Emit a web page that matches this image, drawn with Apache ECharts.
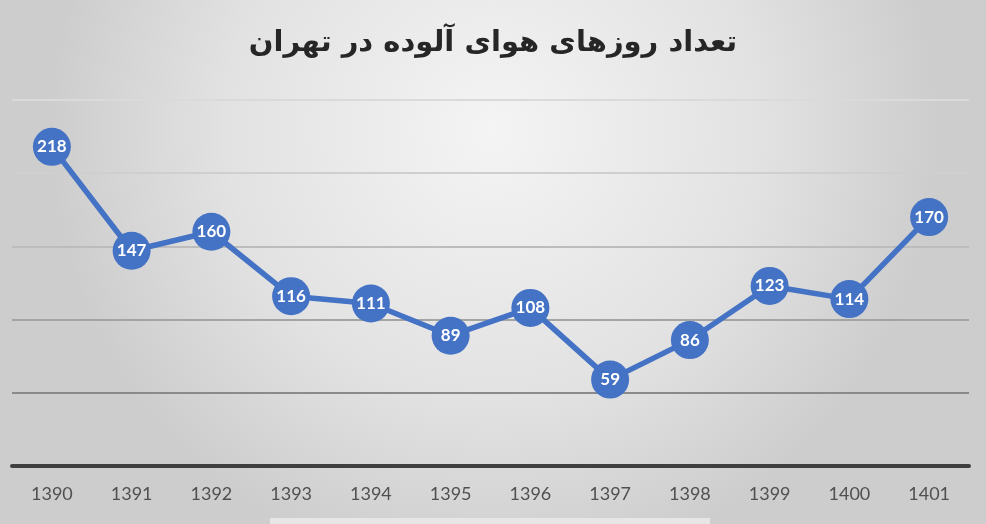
<!DOCTYPE html>
<html>
<head>
<meta charset="utf-8">
<script src="https://cdn.jsdelivr.net/npm/echarts@6/dist/echarts.min.js"></script>
<style>html,body{margin:0;padding:0;}#c{width:986px;height:524px;}</style>
</head>
<body>
<div id="c"></div>
<script>
const titleText = 'تعداد روزهای هوای آلوده در تهران';
const years = ['1390','1391','1392','1393','1394','1395','1396','1397','1398','1399','1400','1401'];
const pollutedDays = [218,147,160,116,111,89,108,59,86,123,114,170];
const yMin = 0, yMax = 250, yStep = 50;

const chart = echarts.init(document.getElementById('c'), null, {renderer:'canvas'});
chart.setOption({
  backgroundColor: {
    type: 'radial', x: 0.5, y: 0.25, r: 0.85,
    colorStops: [
      {offset: 0, color: '#f4f4f4'},
      {offset: 0.6, color: '#e2e2e2'},
      {offset: 1, color: '#cdcdcd'}
    ]
  },
  title: {
    text: titleText, left: 'center', top: 24,
    textStyle: {fontFamily: 'DejaVu Sans', fontWeight: 'bold', fontSize: 29, color: '#262626'}
  },
  graphic: [{
    type: 'rect', shape: {x: 270, y: 518, width: 440, height: 6},
    style: {fill: '#e6e6e6'}, silent: true
  }],
  grid: {left: 12, right: 17, top: 100, bottom: 58},
  xAxis: {
    type: 'category', data: years, boundaryGap: true,
    axisLine: {show: true, lineStyle: {color: '#3f3f3f', width: 4}},
    axisTick: {show: false},
    axisLabel: {color: '#505050', fontFamily: 'Lato', fontSize: 18, margin: 19}
  },
  yAxis: {
    type: 'value', min: yMin, max: yMax, interval: yStep,
    axisLabel: {show: false}, axisLine: {show: false}, axisTick: {show: false},
    splitLine: {show: true, lineStyle: {color: ['#3f3f3f','#8a8a8a','#a4a4a4','#bcbcbc','#cfcfcf','#dadada'], width: 2}}
  },
  series: [{
    type: 'line', data: pollutedDays,
    symbol: 'circle', symbolSize: 38,
    lineStyle: {color: '#4472c4', width: 5.5},
    itemStyle: {color: '#4472c4'},
    label: {show: true, position: 'inside', color: '#ffffff', fontFamily: 'Lato', fontWeight: 'bold', fontSize: 17},
    z: 5
  }]
});
</script>
</body>
</html>
